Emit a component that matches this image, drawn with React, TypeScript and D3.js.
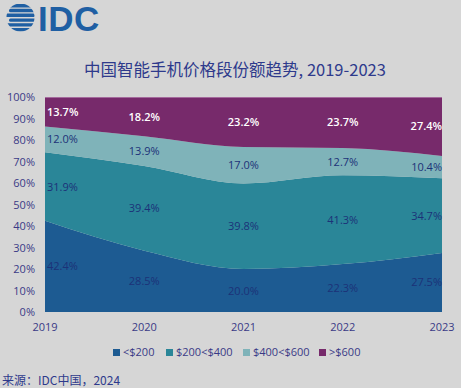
import React from "react";
import * as d3 from "d3";

const years = ["2019", "2020", "2021", "2022", "2023"];
const seriesNames = ["<$200", "$200<$400", "$400<$600", ">$600"];
const under200 = [42.4, 28.5, 20.0, 22.3, 27.5];
const s200to400 = [31.9, 39.4, 39.8, 41.3, 34.7];
const s400to600 = [12.0, 13.9, 17.0, 12.7, 10.4];
const over600 = [13.7, 18.2, 23.2, 23.7, 27.4];
const yTicks = [0, 10, 20, 30, 40, 50, 60, 70, 80, 90, 100];
const colors = ["#1d5b92", "#2a8698", "#7fb3b9", "#772a6b"];
const labelColors = ["#1c3278", "#1c3278", "#1c3278", "#ffffff"];

const W = 461;
const H = 388;
const left = 45;
const right = 442;
const top = 97;
const bottom = 312;
const navy = "#3a3a86";
const latin = "'Open Sans', 'Noto Sans', sans-serif";
const cjk = "'Noto Sans CJK SC', 'Open Sans', sans-serif";

export default function App() {
  const x = d3.scalePoint<string>().domain(years).range([left, right]);
  const y = d3.scaleLinear().domain([0, 100]).range([bottom, top]);
  const rows = years.map((yr, i) => ({
    year: yr,
    [seriesNames[0]]: under200[i],
    [seriesNames[1]]: s200to400[i],
    [seriesNames[2]]: s400to600[i],
    [seriesNames[3]]: over600[i],
  }));
  const stack = d3.stack<any>().keys(seriesNames)(rows);
  const area = d3
    .area<any>()
    .x((d) => x(d.data.year) as number)
    .y0((d) => y(d[0]))
    .y1((d) => y(d[1]))
    .curve(d3.curveMonotoneX);

  const legendX = [113, 166, 243, 319];

  return (
    <svg
      width={W}
      height={H}
      style={{ position: "absolute", left: 0, top: 0, background: "#d6d6d6" }}
    >
      <rect x={0} y={0} width={W} height={H} fill="#d6d6d6" />
      {/* logo */}
      <defs>
        <clipPath id="globe">
          <circle cx={20.5} cy={17.5} r={14} />
        </clipPath>
      </defs>
      <g clipPath="url(#globe)">
        {[0, 1, 2, 3, 4, 5].map((i) => (
          <rect
            key={i}
            x={i % 2 === 0 ? 5 : 9}
            y={4 + i * 4.8}
            width={i % 2 === 0 ? 30 : 28}
            height={3.4}
            rx={1.5}
            fill="#1f5fa3"
          />
        ))}
      </g>
      <text
        x={38}
        y={30.5}
        fontFamily="'Liberation Sans', Arial, sans-serif"
        fontWeight="bold"
        fontSize={35}
        fill="#1f5fa3"
        letterSpacing={0.5}
      >
        IDC
      </text>
      {/* title */}
      <text
        x={235}
        y={76}
        textAnchor="middle"
        fontFamily={cjk}
        fontSize={16.5}
        fill="#2e3a8c"
      >
        中国智能手机价格段份额趋势, 2019-2023
      </text>
      {/* areas */}
      {stack.map((s, i) => (
        <path key={s.key} d={area(s as any) as string} fill={colors[i]} />
      ))}
      <line x1={left} x2={right} y1={top + 0.5} y2={top + 0.5} stroke="#a46a9c" strokeWidth={1} />
      {/* y axis */}
      {yTicks.map((t) => (
        <text
          key={t}
          x={35}
          y={y(t) + 4}
          textAnchor="end"
          fontFamily={latin}
          fontSize={11}
          fill={navy}
        >
          {t}%
        </text>
      ))}
      {/* x axis */}
      {years.map((yr) => (
        <text
          key={yr}
          x={x(yr)}
          y={331}
          textAnchor="middle"
          fontFamily={latin}
          fontSize={11}
          fill={navy}
        >
          {yr}
        </text>
      ))}
      {/* data labels */}
      {stack.map((s, si) =>
        s.map((d: any, i: number) => {
          const anchor = i === 0 ? "start" : i === years.length - 1 ? "end" : "middle";
          const xx = (x(d.data.year) as number) + (i === 0 ? 2 : 0);
          return (
            <text
              key={si + "-" + i}
              x={xx}
              y={y((d[0] + d[1]) / 2) + 4}
              textAnchor={anchor}
              fontFamily={latin}
              fontSize={11}
              fontWeight={si === 3 ? 600 : 400}
              fill={labelColors[si]}
            >
              {(d[1] - d[0]).toFixed(1)}%
            </text>
          );
        })
      )}
      {/* legend */}
      {seriesNames.map((n, i) => (
        <g key={n}>
          <rect x={legendX[i]} y={349} width={7} height={7} fill={colors[i]} />
          <text
            x={legendX[i] + 10}
            y={356}
            fontFamily={latin}
            fontSize={11}
            fill={navy}
          >
            {n}
          </text>
        </g>
      ))}
      <text x={2} y={385} fontFamily={cjk} fontSize={12} fill="#2e3a8c">
        来源：IDC中国，2024
      </text>
    </svg>
  );
}
